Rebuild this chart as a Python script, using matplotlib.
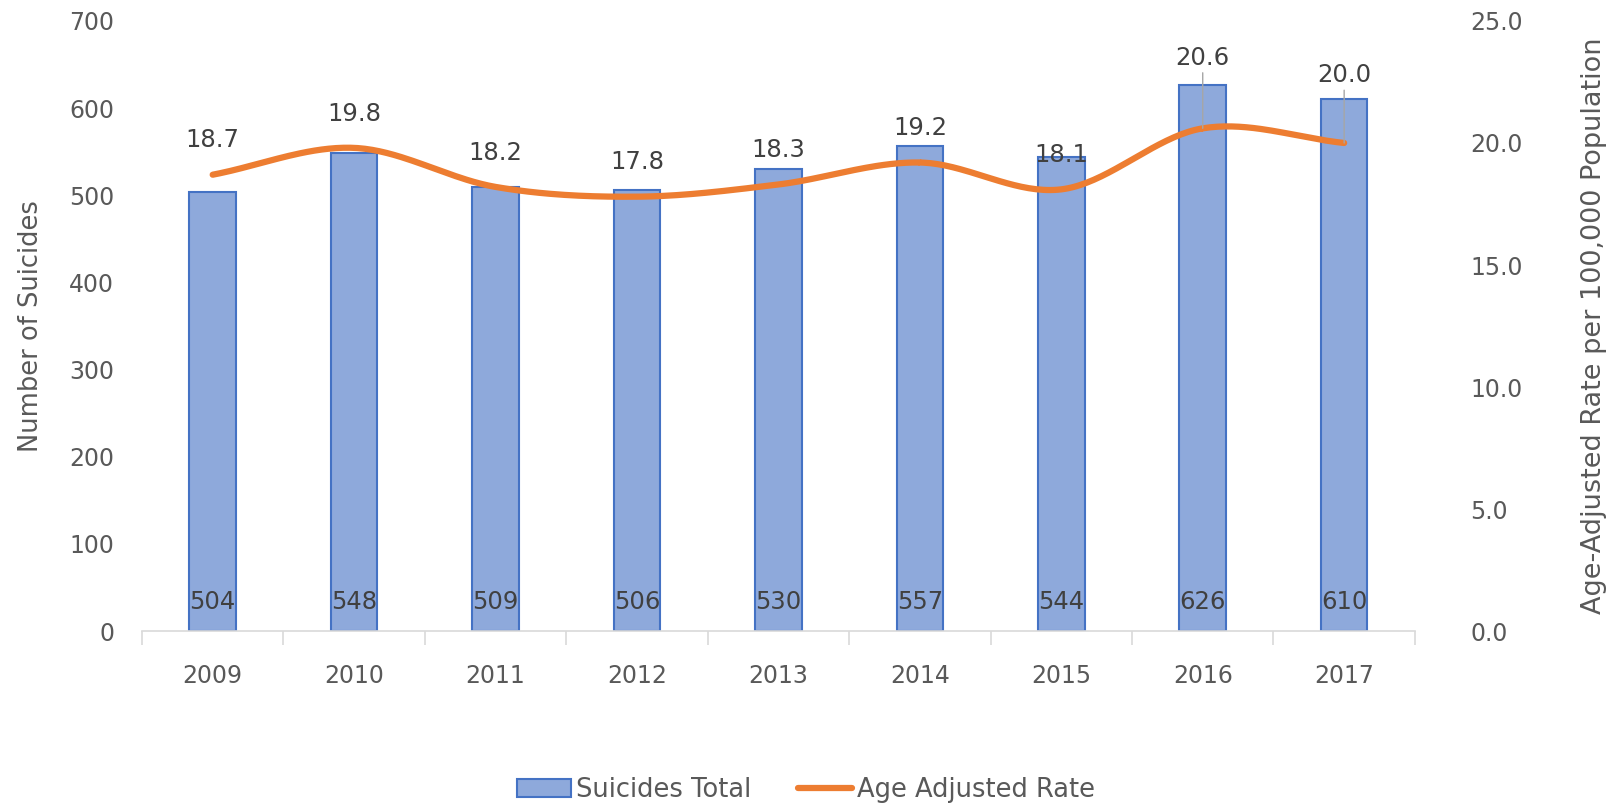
import numpy as np
import matplotlib.pyplot as plt
from matplotlib.ticker import FormatStrFormatter, FixedLocator

years = ["2009", "2010", "2011", "2012", "2013", "2014", "2015", "2016", "2017"]
suicides = [504, 548, 509, 506, 530, 557, 544, 626, 610]
rates = [18.7, 19.8, 18.2, 17.8, 18.3, 19.2, 18.1, 20.6, 20.0]
# how far above the line point each rate label sits (points)
label_lift = [16, 16, 16, 16, 16, 16, 16, 42, 40]

bar_fill = "#8EA9DB"
bar_edge = "#4472C4"
line_col = "#ED7D31"
txt = "#595959"
lbl = "#404040"


def smooth(xs, ys, n=40):
    # catmull-rom style curve, close to excel's smoothed line
    xs = np.asarray(xs, float)
    ys = np.asarray(ys, float)
    px = np.concatenate([[2 * xs[0] - xs[1]], xs, [2 * xs[-1] - xs[-2]]])
    py = np.concatenate([[2 * ys[0] - ys[1]], ys, [2 * ys[-1] - ys[-2]]])
    out_x, out_y = [], []
    for i in range(1, len(px) - 2):
        t = np.linspace(0, 1, n)
        for arr, out in ((px, out_x), (py, out_y)):
            p0, p1, p2, p3 = arr[i - 1], arr[i], arr[i + 1], arr[i + 2]
            out.extend(0.5 * (2 * p1 + (-p0 + p2) * t
                              + (2 * p0 - 5 * p1 + 4 * p2 - p3) * t ** 2
                              + (-p0 + 3 * p1 - 3 * p2 + p3) * t ** 3))
    return np.array(out_x), np.array(out_y)


fig = plt.figure(figsize=(16.17, 8.06), dpi=100)
ax = fig.add_axes([0.0878, 0.217, 0.7872, 0.757])
ax2 = ax.twinx()

x = np.arange(len(years))
bars = ax.bar(x, suicides, width=0.33, color=bar_fill, edgecolor=bar_edge,
              linewidth=1.5, label="Suicides Total", zorder=2)
for xi, v in zip(x, suicides):
    ax.text(xi, 33, str(v), ha="center", va="center",
            fontsize=17.5, color=lbl, zorder=5)

sx, sy = smooth(x, rates)
line, = ax2.plot(sx, sy, color=line_col, lw=4.5, solid_capstyle="round",
                 label="Age Adjusted Rate", zorder=3)
for xi, r, lift in zip(x, rates, label_lift):
    ax2.annotate(f"{r:.1f}", (xi, r), xytext=(0, lift), textcoords="offset points",
                 ha="center", va="bottom", fontsize=17.5, color=lbl)
    if lift > 30:
        ax2.annotate("", (xi, r), xytext=(0, lift - 2), textcoords="offset points",
                     arrowprops=dict(arrowstyle="-", color="#A6A6A6", lw=1,
                                     shrinkA=0, shrinkB=0))

ax.set_xlim(-0.5, len(years) - 0.5)
ax.set_ylim(0, 700)
ax2.set_ylim(0, 25)
ax.set_yticks(range(0, 701, 100))
ax2.set_yticks(np.arange(0, 25.1, 5))
ax2.yaxis.set_major_formatter(FormatStrFormatter("%.1f"))

ax.set_xticks(x)
ax.set_xticklabels(years)
ax.xaxis.set_minor_locator(FixedLocator(np.arange(-0.5, len(years), 1)))
ax.tick_params(axis="x", which="major", length=0, pad=24, labelsize=17, labelcolor=txt)
ax.tick_params(axis="x", which="minor", length=10, color="#D9D9D9", width=1.2)
ax.tick_params(axis="y", length=0, labelsize=17, labelcolor=txt, pad=20)
ax2.tick_params(axis="y", length=0, labelsize=17, labelcolor=txt, pad=40)

for a in (ax, ax2):
    for s in ("left", "right", "top"):
        a.spines[s].set_visible(False)
ax.spines["bottom"].set_color("#D9D9D9")
ax.spines["bottom"].set_linewidth(1.2)
ax2.spines["bottom"].set_visible(False)

ax.set_ylabel("Number of Suicides", fontsize=18.5, color=txt, labelpad=18)
ax2.set_ylabel("Age-Adjusted Rate per 100,000 Population", fontsize=19.5,
               color=txt, labelpad=42)

fig.legend([bars, line], ["Suicides Total", "Age Adjusted Rate"],
           loc="center", bbox_to_anchor=(0.4985, 0.02), ncol=2, frameon=False,
           fontsize=18.5, labelcolor=txt, handlelength=2.1, handletextpad=0.2,
           columnspacing=1.8)

fig.savefig("out.png", dpi=100)
